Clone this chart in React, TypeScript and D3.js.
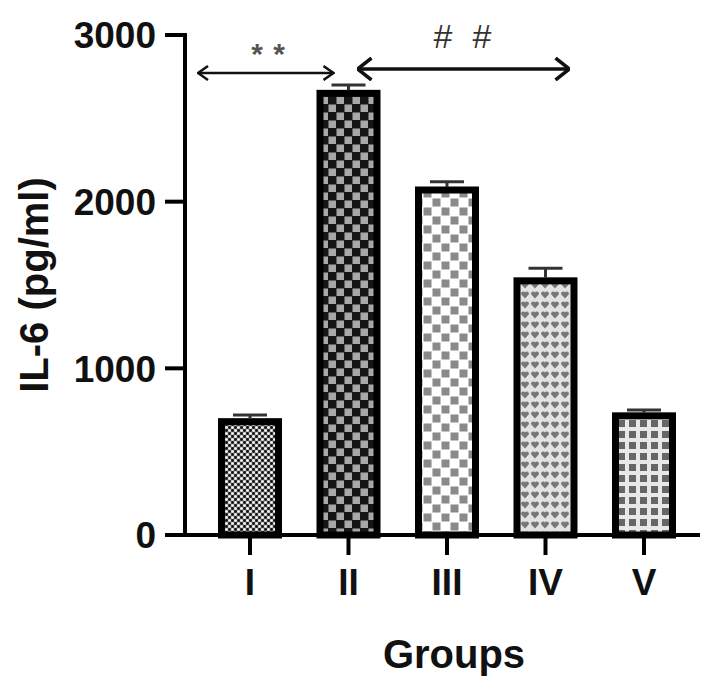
import React from "react";
import * as d3 from "d3";

const categories = ["I", "II", "III", "IV", "V"];
const means = [680, 2650, 2070, 1525, 715];
const errors = [40, 50, 50, 75, 35];
const yTicks = [0, 1000, 2000, 3000];
const patternIds = ["patI", "patII", "patIII", "patIV", "patV"];

const W = 727;
const H = 694;
const FONT = "'Liberation Sans', Arial, sans-serif";

export default function App() {
  const y = d3.scaleLinear().domain([0, 3000]).range([535, 35]);
  const x = d3
    .scaleBand<string>()
    .domain(categories)
    .range([185, 709])
    .paddingInner(0.4213)
    .paddingOuter(0.3706);
  const bw = x.bandwidth();
  const cx = (c: string) => (x(c) as number) + bw / 2;
  const axisX = 185;
  const axisEnd = 700;

  const a1 = { x1: cx("I") - 52, x2: cx("II") - 15, y: 73 };
  const a2 = { x1: cx("II") + 9, x2: cx("IV") + 24, y: 69 };

  return (
    <svg
      width={W}
      height={H}
      style={{ position: "absolute", left: 0, top: 0, background: "#fff" }}
      fontFamily={FONT}
    >
      <defs>
        <pattern id="patI" width={6} height={6} patternUnits="userSpaceOnUse">
          <rect width={6} height={6} fill="#8a8a8a" />
          <circle cx={1.5} cy={1.5} r={1.4} fill="#111" />
          <circle cx={4.5} cy={4.5} r={1.4} fill="#111" />
          <circle cx={4.5} cy={1.5} r={1.3} fill="#fff" />
          <circle cx={1.5} cy={4.5} r={1.3} fill="#fff" />
        </pattern>
        <pattern id="patII" width={16} height={16} patternUnits="userSpaceOnUse">
          <rect width={16} height={16} fill="#151515" />
          <rect x={0.5} y={0.5} width={7.5} height={7.5} fill="#a8a8a8" />
          <rect x={8.5} y={8.5} width={7.5} height={7.5} fill="#a8a8a8" />
        </pattern>
        <pattern id="patIII" width={18} height={18} patternUnits="userSpaceOnUse">
          <rect width={18} height={18} fill="#fff" />
          <rect x={0.5} y={0.5} width={8} height={8} fill="#8a8a8a" />
          <rect x={9.5} y={9.5} width={8} height={8} fill="#8a8a8a" />
        </pattern>
        <pattern id="patIV" width={10} height={10} patternUnits="userSpaceOnUse">
          <rect width={10} height={10} fill="#e2e2e2" />
          <path
            d="M5,8.5 L1.3,4.6 A2,2 0 0 1 5,2.6 A2,2 0 0 1 8.7,4.6 Z"
            fill="#777"
          />
        </pattern>
        <pattern id="patV" width={11} height={11} patternUnits="userSpaceOnUse">
          <rect width={11} height={11} fill="#e8e8e8" />
          <rect x={2} y={2} width={7} height={7} fill="#666" />
        </pattern>
        <marker
          id="chev1"
          viewBox="0 0 12 16"
          refX={11}
          refY={8}
          markerWidth={12}
          markerHeight={16}
          markerUnits="userSpaceOnUse"
          orient="auto-start-reverse"
        >
          <path d="M1,1 L11,8 L1,15" fill="none" stroke="#111" strokeWidth={2.5} />
        </marker>
        <marker
          id="chev2"
          viewBox="0 0 16 24"
          refX={15}
          refY={12}
          markerWidth={16}
          markerHeight={24}
          markerUnits="userSpaceOnUse"
          orient="auto-start-reverse"
        >
          <path d="M1,1 L15,12 L1,23" fill="none" stroke="#111" strokeWidth={3.5} />
        </marker>
      </defs>

      {/* bars */}
      {categories.map((c, i) => (
        <rect
          key={c}
          x={x(c) as number}
          y={y(means[i])}
          width={bw}
          height={y(0) - y(means[i])}
          fill={`url(#${patternIds[i]})`}
          stroke="#000"
          strokeWidth={7}
        />
      ))}

      {/* error bars */}
      {categories.map((c, i) => (
        <g key={"e" + c} stroke="#333" strokeWidth={3}>
          <line x1={cx(c)} x2={cx(c)} y1={y(means[i]) - 3} y2={y(means[i] + errors[i])} />
          <line
            x1={cx(c) - 17}
            x2={cx(c) + 17}
            y1={y(means[i] + errors[i])}
            y2={y(means[i] + errors[i])}
          />
        </g>
      ))}

      {/* y axis */}
      <line x1={axisX} x2={axisX} y1={y(3000) - 2} y2={y(0) + 2} stroke="#000" strokeWidth={4} />
      {yTicks.map((t) => (
        <g key={t}>
          <line x1={axisX - 20} x2={axisX} y1={y(t)} y2={y(t)} stroke="#000" strokeWidth={4} />
          <text
            x={156}
            y={y(t)}
            dy="0.36em"
            textAnchor="end"
            fontSize={37}
            fontWeight="bold"
            fill="#111"
          >
            {t}
          </text>
        </g>
      ))}

      {/* x axis */}
      <line x1={axisX - 2} x2={axisEnd} y1={y(0)} y2={y(0)} stroke="#000" strokeWidth={4} />
      {categories.map((c) => (
        <g key={"x" + c}>
          <line x1={cx(c)} x2={cx(c)} y1={y(0)} y2={y(0) + 20} stroke="#000" strokeWidth={4} />
          <text
            x={cx(c)}
            y={595}
            textAnchor="middle"
            fontSize={37}
            fontWeight="bold"
            fill="#111"
          >
            {c}
          </text>
        </g>
      ))}

      {/* axis titles */}
      <text
        transform={`translate(48,285) rotate(-90)`}
        textAnchor="middle"
        fontSize={40}
        fontWeight="bold"
        fill="#111"
      >
        IL-6 (pg/ml)
      </text>
      <text
        x={454}
        y={668}
        textAnchor="middle"
        fontSize={40}
        fontWeight="bold"
        fill="#111"
      >
        Groups
      </text>

      {/* significance annotations */}
      <line
        x1={a1.x1}
        x2={a1.x2}
        y1={a1.y}
        y2={a1.y}
        stroke="#111"
        strokeWidth={2.5}
        markerStart="url(#chev1)"
        markerEnd="url(#chev1)"
      />
      {[257, 279].map((sx) => (
        <text key={sx} x={sx} y={64} textAnchor="middle" fontSize={30} fontWeight="bold" fill="#555">
          *
        </text>
      ))}
      <line
        x1={a2.x1}
        x2={a2.x2}
        y1={a2.y}
        y2={a2.y}
        stroke="#111"
        strokeWidth={3.5}
        markerStart="url(#chev2)"
        markerEnd="url(#chev2)"
      />
      {[443, 482].map((hx) => (
        <text key={hx} x={hx} y={48} textAnchor="middle" fontSize={34} fill="#333">
          #
        </text>
      ))}
    </svg>
  );
}
